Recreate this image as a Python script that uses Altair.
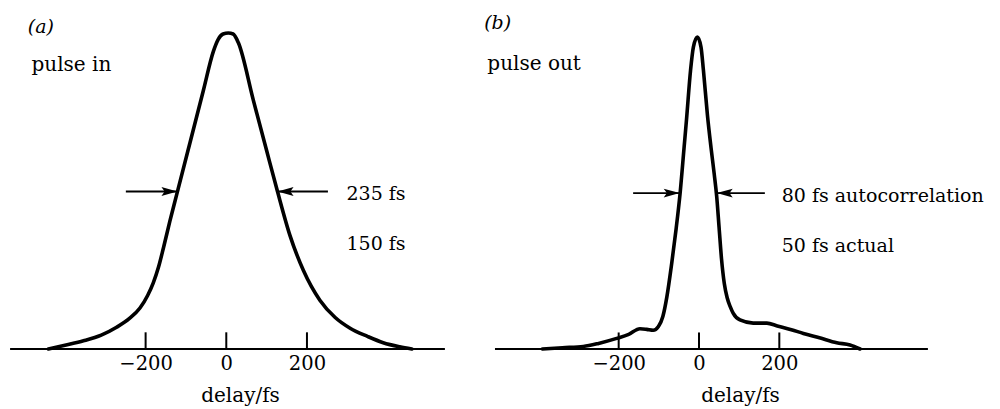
import altair as alt
import pandas as pd

# ---------------- data ----------------
# (a) pulse in: delay in fs, normalised signal
a_delay = [-441, -400, -354, -310, -272, -240, -214, -195, -181, -168, -156, -140, -123, -90, -57,
           -32, -20, -8, 5, 17, 30, 67, 100, 127, 158, 191, 232, 270, 307, 350, 389, 430, 460]
a_signal = [0.0, 0.012, 0.026, 0.044, 0.069, 0.097, 0.13, 0.17, 0.21, 0.26, 0.32, 0.405, 0.49, 0.655,
            0.82, 0.945, 0.983, 1.0, 1.003, 1.0, 0.972, 0.79, 0.63, 0.5, 0.36, 0.25, 0.155, 0.1,
            0.066, 0.04, 0.02, 0.007, 0.0]

# (b) pulse out
b_delay = [-390, -340, -288, -250, -205, -175, -147, -130, -114, -101, -90, -80, -68, -57, -47,
           -37, -31, -21, -14, -4, 5, 11, 21, 30, 38, 44, 50, 56, 63, 70, 78, 85, 102, 135, 169,
           195, 230, 260, 300, 343, 376, 401]
b_signal = [0.0, 0.004, 0.008, 0.018, 0.034, 0.047, 0.065, 0.063, 0.06, 0.072, 0.104, 0.167, 0.274,
            0.385, 0.5, 0.648, 0.737, 0.894, 0.968, 1.0, 0.968, 0.894, 0.75, 0.645, 0.56, 0.49,
            0.39, 0.29, 0.21, 0.165, 0.135, 0.115, 0.093, 0.083, 0.083, 0.074, 0.062, 0.05, 0.036,
            0.02, 0.013, 0.0]

tick_values = [-200, 0, 200]
tick_top = 0.053

a_axis_span = [-536, 542]
b_axis_span = [-508, 570]

arrow_level = 0.5
a_arrow_start = [-249, 252]
a_arrow_tip = [-121, 127]
b_arrow_start = [-164, 164]
b_arrow_tip = [-48, 44]

a_tag, b_tag = "(a)", "(b)"
a_name, b_name = "pulse in", "pulse out"
a_notes = ["235 fs", "150 fs"]
b_notes = ["80 fs autocorrelation", "50 fs actual"]
a_note_y = [0.473, 0.314]
b_note_y = [0.472, 0.312]
a_note_x = 298
b_note_x = 206
a_tag_pos = (-492, 1.004)
b_tag_pos = (-535, 1.025)
a_name_pos = (-483, 0.883)
b_name_pos = (-527, 0.894)

FONT = "DejaVu Serif"
RIGHT_HEAD = "M1,0L-1,-0.55L-0.6,0L-1,0.55Z"
LEFT_HEAD = "M-1,0L1,-0.55L0.6,0L1,0.55Z"
HEAD_HALF = 20  # fs, half the arrowhead length


def make_panel(delay, signal, xdom, ydom, width, span, a_start, a_tip,
               tag, tag_pos, name, name_pos, notes, note_x, note_y):
    xs = alt.Scale(domain=xdom, nice=False, zero=False)
    ys = alt.Scale(domain=ydom, nice=False, zero=False)
    axis = alt.Axis(values=tick_values, ticks=False, tickSize=0, domain=False, grid=False,
                    labelFont=FONT, labelFontSize=19.5, labelColor="black", labelPadding=5,
                    title="delay/fs", titleFont=FONT, titleFontSize=20, titleFontWeight="normal",
                    titleColor="black", titlePadding=13)

    def X(f):
        return alt.X(f, type="quantitative", scale=xs, axis=axis, title="delay/fs")

    def Y(f):
        return alt.Y(f, type="quantitative", scale=ys, axis=None)

    curve_df = pd.DataFrame({"delay": delay, "signal": signal})
    curve = alt.Chart(curve_df).mark_line(
        color="black", strokeWidth=3.6, interpolate="monotone", strokeCap="round", strokeJoin="round"
    ).encode(x=X("delay"), y=Y("signal"))

    base_df = pd.DataFrame({"delay": [span[0]], "end": [span[1]], "level": [0.0]})
    base = alt.Chart(base_df).mark_rule(color="black", strokeWidth=2).encode(
        x=X("delay"), x2="end", y=Y("level"))

    tick_df = pd.DataFrame({"delay": tick_values, "lo": [0.0] * 3, "hi": [tick_top] * 3})
    ticks = alt.Chart(tick_df).mark_rule(color="black", strokeWidth=2).encode(
        x=X("delay"), y=Y("lo"), y2="hi")

    shaft_df = pd.DataFrame({"delay": a_start, "end": a_tip, "level": [arrow_level] * 2})
    shafts = alt.Chart(shaft_df).mark_rule(color="black", strokeWidth=1.8).encode(
        x=X("delay"), x2="end", y=Y("level"))

    rh_df = pd.DataFrame({"delay": [a_tip[0] - HEAD_HALF], "level": [arrow_level]})
    lh_df = pd.DataFrame({"delay": [a_tip[1] + HEAD_HALF], "level": [arrow_level]})
    rhead = alt.Chart(rh_df).mark_point(shape=RIGHT_HEAD, filled=True, size=256,
                                        color="black", opacity=1).encode(x=X("delay"), y=Y("level"))
    lhead = alt.Chart(lh_df).mark_point(shape=LEFT_HEAD, filled=True, size=256,
                                        color="black", opacity=1).encode(x=X("delay"), y=Y("level"))

    tag_df = pd.DataFrame({"delay": [tag_pos[0]], "level": [tag_pos[1]], "t": [tag]})
    tag_t = alt.Chart(tag_df).mark_text(font=FONT, fontSize=19, fontStyle="italic", align="left",
                                        baseline="alphabetic", color="black").encode(
        x=X("delay"), y=Y("level"), text="t")

    name_df = pd.DataFrame({"delay": [name_pos[0]], "level": [name_pos[1]], "t": [name]})
    name_t = alt.Chart(name_df).mark_text(font=FONT, fontSize=20, align="left",
                                          baseline="alphabetic", color="black").encode(
        x=X("delay"), y=Y("level"), text="t")

    note_df = pd.DataFrame({"delay": [note_x] * len(notes), "level": note_y, "t": notes})
    note_t = alt.Chart(note_df).mark_text(font=FONT, fontSize=19, align="left",
                                          baseline="alphabetic", color="black").encode(
        x=X("delay"), y=Y("level"), text="t")

    return alt.layer(curve, base, ticks, shafts, rhead, lhead, tag_t, name_t, note_t).properties(
        width=width, height=349)


pa = make_panel(a_delay, a_signal, [-561, 629], [0, 1.108], 480, a_axis_span,
                a_arrow_start, a_arrow_tip, a_tag, a_tag_pos, a_name, a_name_pos,
                a_notes, a_note_x, a_note_y)
pb = make_panel(b_delay, b_signal, [-545.3, 749.5], [0, 1.119], 520, b_axis_span,
                b_arrow_start, b_arrow_tip, b_tag, b_tag_pos, b_name, b_name_pos,
                b_notes, b_note_x, b_note_y)

chart = alt.hconcat(pa, pb, spacing=0, bounds="flush").properties(
    padding=0, background="white"
).configure_view(stroke=None)

chart.save("out.html", embed_options={"renderer": "svg", "actions": False})
